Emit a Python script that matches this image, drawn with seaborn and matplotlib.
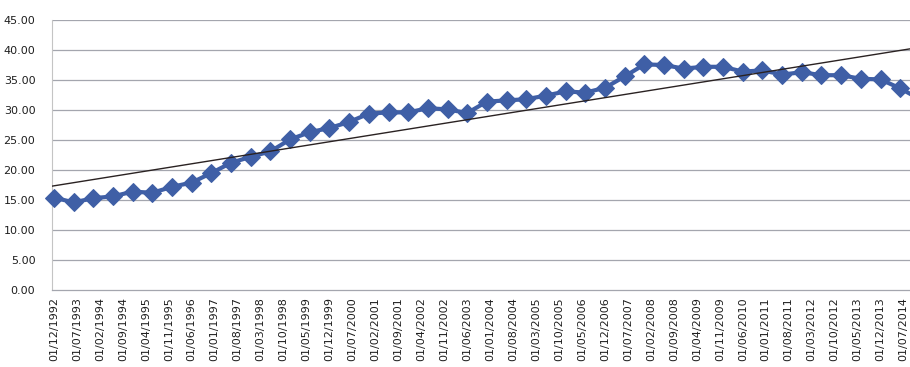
import numpy as np
import pandas as pd
import matplotlib
matplotlib.use("Agg")
import matplotlib.pyplot as plt
import seaborn as sns

# Semi-annual observations, December 1992 onwards (months since 01/12/1992)
months = [6 * i for i in range(45)]
values = [15.4, 14.6, 15.3, 15.6, 16.4, 16.2, 17.2, 17.9,
          19.5, 21.2, 22.2, 23.1, 25.1, 26.3, 27.0, 28.0,
          29.4, 29.6, 29.6, 30.3, 30.1, 29.5, 31.4, 31.6,
          31.8, 32.4, 33.1, 32.9, 33.7, 35.6, 37.6, 37.5,
          36.9, 37.2, 37.2, 36.4, 36.6, 35.9, 36.3, 35.8,
          35.8, 35.2, 35.1, 33.6, 31.8]

# Category axis labels, one every seven months
tick_months = [7 * i for i in range(38)]
tick_labels = ["01/12/1992", "01/07/1993", "01/02/1994", "01/09/1994", "01/04/1995",
               "01/11/1995", "01/06/1996", "01/01/1997", "01/08/1997", "01/03/1998",
               "01/10/1998", "01/05/1999", "01/12/1999", "01/07/2000", "01/02/2001",
               "01/09/2001", "01/04/2002", "01/11/2002", "01/06/2003", "01/01/2004",
               "01/08/2004", "01/03/2005", "01/10/2005", "01/05/2006", "01/12/2006",
               "01/07/2007", "01/02/2008", "01/09/2008", "01/04/2009", "01/11/2009",
               "01/06/2010", "01/01/2011", "01/08/2011", "01/03/2012", "01/10/2012",
               "01/05/2013", "01/12/2013", "01/07/2014"]
y_ticks = [0, 5, 10, 15, 20, 25, 30, 35, 40, 45]

df = pd.DataFrame({"month": months, "value": values})

sns.set_style("white")
plt.rcParams["font.family"] = ["DejaVu Sans"]

W, H = 910, 367
fig = plt.figure(figsize=(W / 100, H / 100), dpi=100)
left_px, right_px, top_px, bottom_px = 52, 910, 20, 290
ax = fig.add_axes([left_px / W, 1 - bottom_px / H,
                   (right_px - left_px) / W, (bottom_px - top_px) / H])

px_per_month = 3.28
x0 = -0.6
xlim = (x0, x0 + (right_px - left_px) / px_per_month)
ax.set_xlim(*xlim)
ax.set_ylim(0, 45)

# Horizontal gridlines
for yv in y_ticks[1:]:
    ax.axhline(yv, color="#a4a6ae", lw=0.9, zorder=0)

sns.lineplot(data=df, x="month", y="value", ax=ax, color="#3f5fa6",
             lw=3.0, marker="D", markersize=9, markeredgecolor="#3f5fa6",
             clip_on=False, zorder=3)

# Linear trend across the whole axis
sns.regplot(data=df, x="month", y="value", ax=ax, scatter=False, ci=None,
            truncate=False, line_kws={"color": "#2a2222", "lw": 1.0, "zorder": 4})

ax.set_xlim(*xlim)
ax.set_xticks(tick_months)
ax.set_xticklabels(tick_labels, rotation=90, fontsize=8, color="#1e1e1e",
                   fontweight="medium")
ax.set_yticks(y_ticks)
ax.set_yticklabels([f"{v:.2f}" for v in y_ticks], fontsize=8, color="#1e1e1e",
                   fontweight="medium")
ax.set_xlabel("")
ax.set_ylabel("")

for side in ["top", "right"]:
    ax.spines[side].set_visible(False)
ax.spines["left"].set_color("#c4c4c4")
ax.spines["left"].set_linewidth(0.8)
ax.spines["bottom"].set_color("#a4a6ae")
ax.spines["bottom"].set_linewidth(0.9)
ax.tick_params(axis="x", direction="out", length=3, width=0.8, color="#a4a6ae", pad=2)
ax.tick_params(axis="y", length=0, pad=12)

fig.savefig("out.png", dpi=100)
